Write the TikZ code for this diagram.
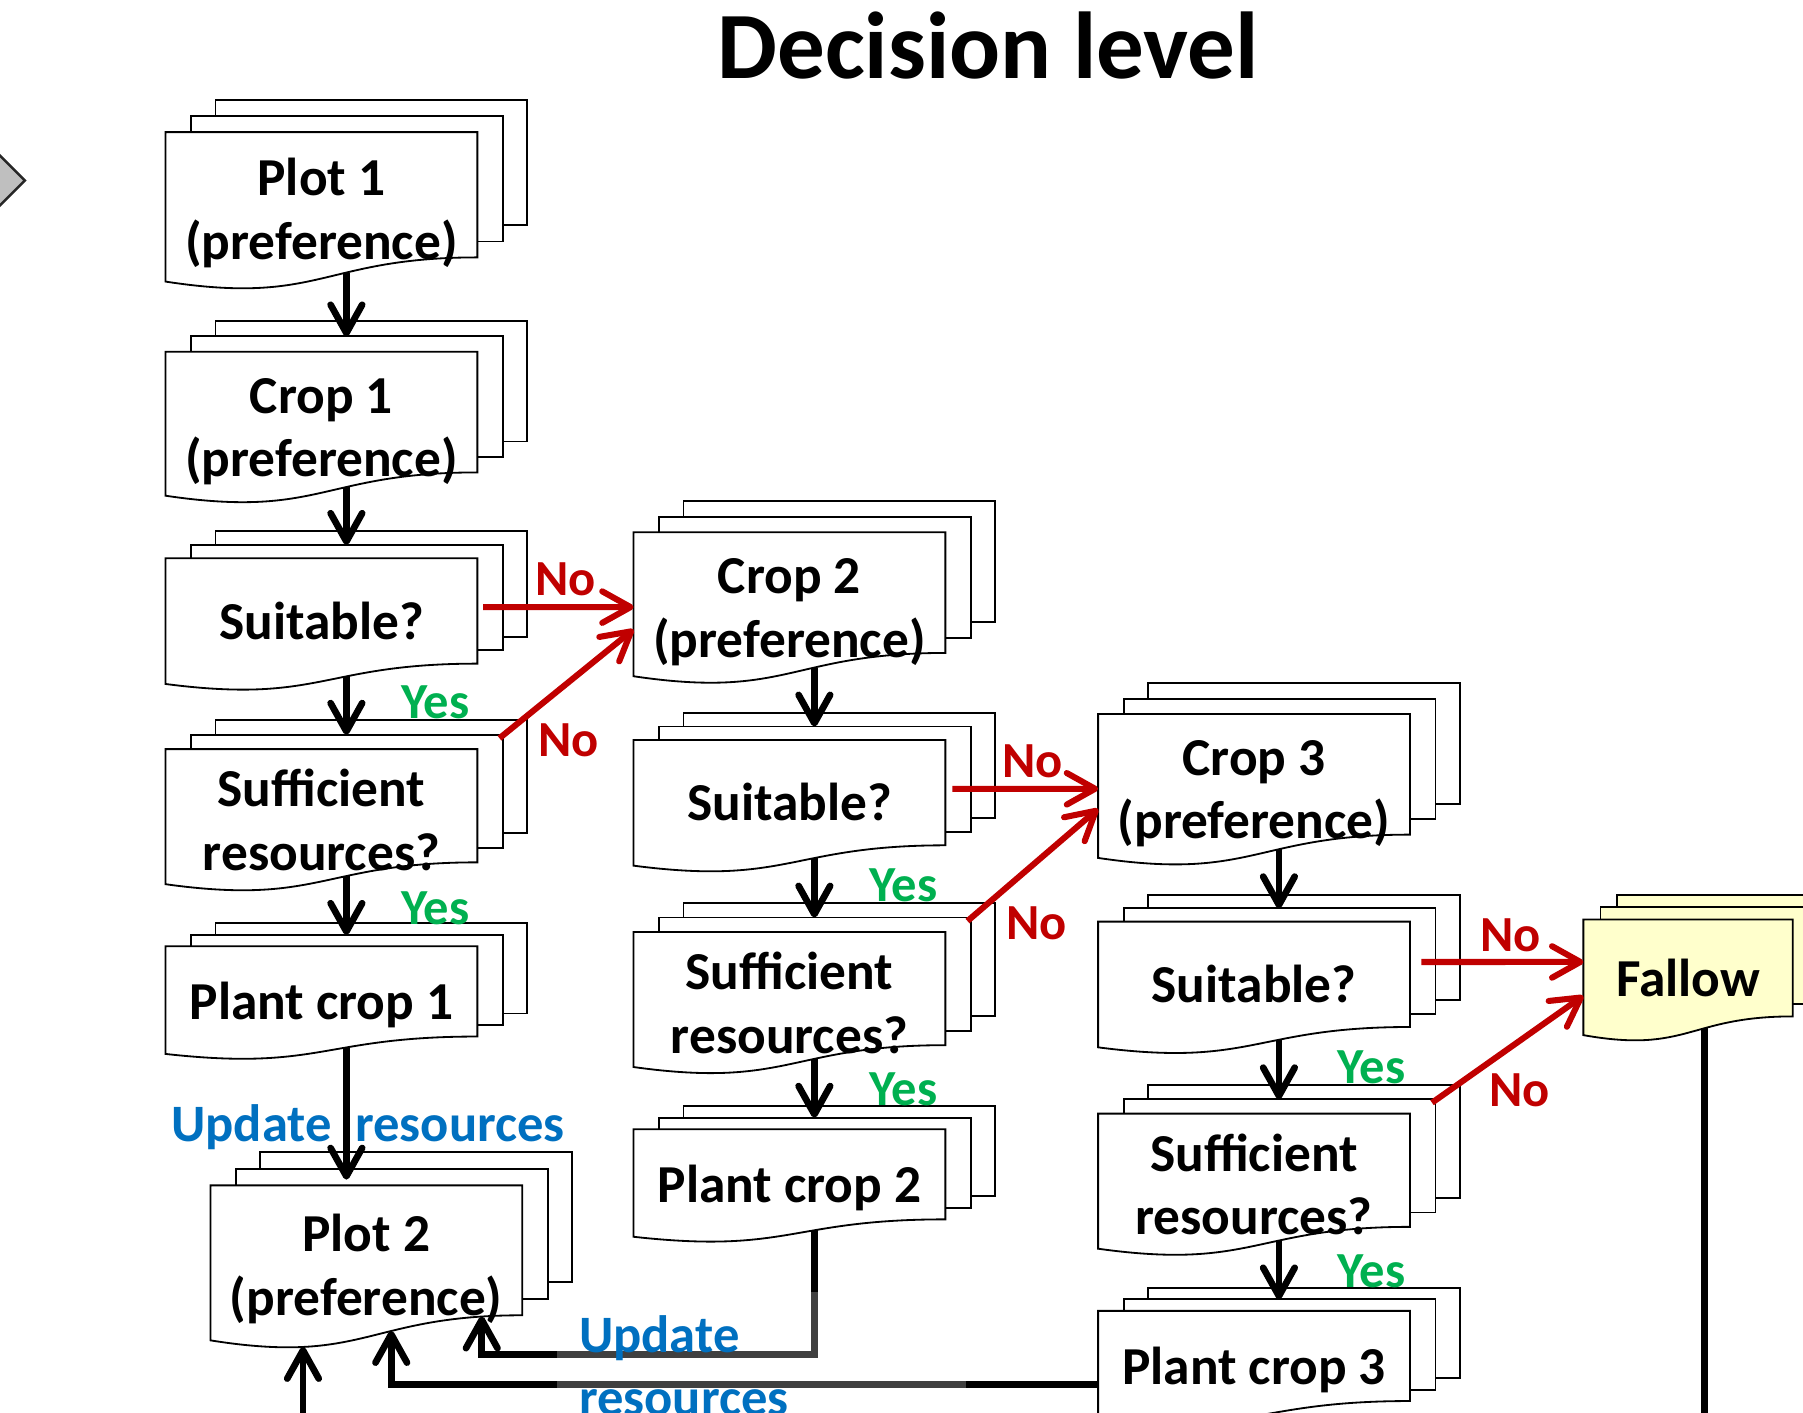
\documentclass[tikz,border=0pt]{standalone}
\usepackage{fontspec}
\setmainfont{Carlito}
\usetikzlibrary{positioning, calc, backgrounds, arrows.meta, shapes.geometric}

\definecolor{noRed}{HTML}{C00000}
\definecolor{yesGreen}{HTML}{00B050}
\definecolor{updBlue}{HTML}{0070C0}
\definecolor{fallowYellow}{HTML}{FFFFCC}
\definecolor{gateGray}{HTML}{BFBFBF}

% two centred lines, baseline on the last one
\newcommand{\twoln}[2]{\raisebox{-2pt}{\begin{tabular}[b]{@{}c@{}}#1\\#2\end{tabular}}}

% stacked sheets behind a node: two offset sheets and a front sheet with a wavy bottom
\newcommand{\docstack}[2]{%
  \path let \p1=($(#1.north east)-(#1.south west)$) in
    coordinate (#1-a) at (0.082*\x1,0.127*\y1)
    coordinate (#1-b) at (0.16*\x1,0.256*\y1)
    coordinate (#1-d) at (0,-0.193*\y1)
    coordinate (#1-c) at (0,-0.385*\y1);
  \begin{scope}[on background layer]
    \draw[docline, fill=#2] ($(#1.south west)+(#1-b)$) rectangle ($(#1.north east)+(#1-b)$);
    \draw[docline, fill=#2] ($(#1.south west)+(#1-a)$) rectangle ($(#1.north east)+(#1-a)$);
    \draw[docline, fill=#2] (#1.south east) -- (#1.north east) -- (#1.north west)
      -- ($(#1.south west)+(#1-d)$) .. controls ($(#1.south)+(#1-c)$) and (#1.south) .. (#1.south east)
      coordinate[pos=0.25] (#1-w1) coordinate[pos=0.605] (#1-w) coordinate[pos=0.905] (#1-w3) -- cycle;
  \end{scope}
  \coordinate (#1-m) at ($(#1.north)+(#1-a)$);
  \coordinate (#1-ne) at ($(#1.north east)+(#1-a)$);
}

\begin{document}
\begin{tikzpicture}[
		x=0.01cm, y=-0.01cm,
		docline/.style={draw=black, line width=0.45pt},
		doc/.style={rectangle, anchor=north west, minimum width=2.71cm, minimum height=#1, inner sep=0pt, outer sep=0pt, font=\fontsize{13.2}{15.7}\selectfont\bfseries},
		oneline/.style={text height=16pt, text depth=2pt},
		twoline/.style={text height=28pt, text depth=-2.5pt},
		arrow/.style={line width=1.65pt, -{Straight Barb[length=7pt,width=7.8pt,round]}},
		noarrow/.style={arrow, draw=noRed, line width=1.5pt},
		yeslbl/.style={text=yesGreen, inner sep=0pt, font=\fontsize{12.5}{15}\selectfont\bfseries},
		nolbl/.style={text=noRed, inner sep=0pt, font=\fontsize{12.5}{15}\selectfont\bfseries},
		updlbl/.style={text=updBlue, inner sep=0pt, font=\fontsize{13}{15.6}\selectfont\bfseries},
		heading/.style={font=\fontsize{23.5}{28}\selectfont\bfseries}
		]
		\useasboundingbox (0,0) rectangle (1568,1228);
		
		% Title and the gate on the left edge
		\node[heading, anchor=base] (title) at (859.5,68) {Decision level};
		\node[diamond, draw=black!85, fill=gateGray, line width=0.6pt, minimum width=0.9cm, minimum height=0.9cm, inner sep=0pt] (gate) at (-23,157) {};
		
		% Nodes
		\node[doc=1.089cm, twoline] (plot1) at (144,114.9) {\twoln{Plot 1}{(preference)}};
		\node[doc=1.049cm, twoline] (crop1) at (144,305.9) {\twoln{Crop 1}{(preference)}};
		\node[doc=0.916cm, oneline] (suit1) at (144,485.5) {Suitable?};
		\node[doc=0.956cm, twoline] (suff1) at (144,651.5) {\twoln{Sufficient}{resources?}};
		\node[doc=0.784cm, oneline] (plant1) at (144,823) {Plant crop 1};
		\node[doc=1.129cm, twoline] (plot2) at (183,1030.9) {\twoln{Plot 2}{(preference)}};
		
		\node[doc=1.049cm, twoline] (crop2) at (551,462.9) {\twoln{Crop 2}{(preference)}};
		\node[doc=0.916cm, oneline] (suit2) at (551,643.5) {Suitable?};
		\node[doc=0.956cm, twoline] (suff2) at (551,810.5) {\twoln{Sufficient}{resources?}};
		\node[doc=0.784cm, oneline] (plant2) at (551,982) {Plant crop 2};
		
		\node[doc=1.049cm, twoline] (crop3) at (955,620.9) {\twoln{Crop 3}{(preference)}};
		\node[doc=0.916cm, oneline] (suit3) at (955,801.5) {Suitable?};
		\node[doc=0.956cm, twoline] (suff3) at (955,968.5) {\twoln{Sufficient}{resources?}};
		\node[doc=0.784cm, oneline] (plant3) at (955,1140) {Plant crop 3};
		
		\node[doc=0.843cm, oneline, minimum width=1.82cm] (fallow) at (1377,799.6) {Fallow};
		
		\foreach \s in {plot1,crop1,suit1,suff1,plant1,plot2,crop2,suit2,suff2,plant2,crop3,suit3,suff3,plant3}
			{\expandafter\docstack\expandafter{\s}{white}}
		\docstack{fallow}{fallowYellow}
		
		% Edges
		\draw[arrow] (plot1-w) -- (plot1-w |- crop1-m);
		\draw[arrow] (crop1-w) -- (crop1-w |- suit1-m);
		\draw[arrow] (suit1-w) -- (suit1-w |- suff1-m) node[yeslbl, pos=.45, right=.45cm] {Yes};
		\draw[arrow] (suff1-w) -- (suff1-w |- plant1-m) node[yeslbl, pos=.55, right=.45cm] {Yes};
		\draw[arrow] (crop2-w) -- (crop2-w |- suit2-m);
		\draw[arrow] (suit2-w) -- (suit2-w |- suff2-m) node[yeslbl, pos=.46, right=.45cm] {Yes};
		\draw[arrow] (suff2-w) -- (suff2-w |- plant2-m) node[yeslbl, pos=.52, right=.45cm] {Yes};
		\draw[arrow] (crop3-w) -- (crop3-w |- suit3-m);
		\draw[arrow] (suit3-w) -- (suit3-w |- suff3-m) node[yeslbl, pos=.46, right=.48cm] {Yes};
		\draw[arrow] (suff3-w) -- (suff3-w |- plant3-m) node[yeslbl, pos=.52, right=.48cm] {Yes};
		
		\draw[noarrow] ([xshift=.05cm,yshift=.033cm]suit1.east) -- ([yshift=-.126cm]crop2.west) node[nolbl, pos=.55, above=.07cm] {No};
		\draw[noarrow] ([xshift=-.03cm,yshift=-.03cm]suff1-ne) -- ([yshift=-.32cm]crop2.west) node[nolbl, pos=0, anchor=west, xshift=.31cm, yshift=-.02cm] {No};
		\draw[noarrow] ([xshift=.06cm,yshift=.033cm]suit2.east) -- ([yshift=-.126cm]crop3.west) node[nolbl, pos=.55, above=.07cm] {No};
		\draw[noarrow] ([xshift=-.03cm,yshift=-.03cm]suff2-ne) -- ([yshift=-.3cm]crop3.west) node[nolbl, pos=0, anchor=west, xshift=.31cm, yshift=-.02cm] {No};
		\draw[noarrow] ([xshift=.1cm,yshift=.107cm]suit3.east) -- ([yshift=.052cm]fallow.west) node[nolbl, pos=.55, above=.06cm] {No};
		\draw[noarrow] ([xshift=-.03cm,yshift=-.03cm]suff3-ne) -- ([yshift=-.242cm]fallow.west) node[nolbl, pos=0, anchor=west, xshift=.47cm, yshift=.11cm] {No};
		
		\node[updlbl, anchor=base] (upd1) at (320,993) {Update~~resources};
		\draw[arrow] (plant1-w) -- ($(plant1-w |- plot2.north)+(0,.05cm)$);
		\draw[arrow] (plant2-w) -- ++(0,-1.08cm) -| (plot2-w3);
		\draw[arrow] ([yshift=-.25cm]plant3.west) -| (plot2-w);
		\draw[arrow] (fallow-w) -- ++(0,-4cm) -| (plot2-w1);
		
		\node[updlbl, fill=white, fill opacity=.25, text opacity=1, anchor=north west, inner xsep=.19cm, inner ysep=.2cm, text width=3.17cm, align=left] (upd2) at (484,1123) {Update\\resources};
		
	\end{tikzpicture}
\end{document}
